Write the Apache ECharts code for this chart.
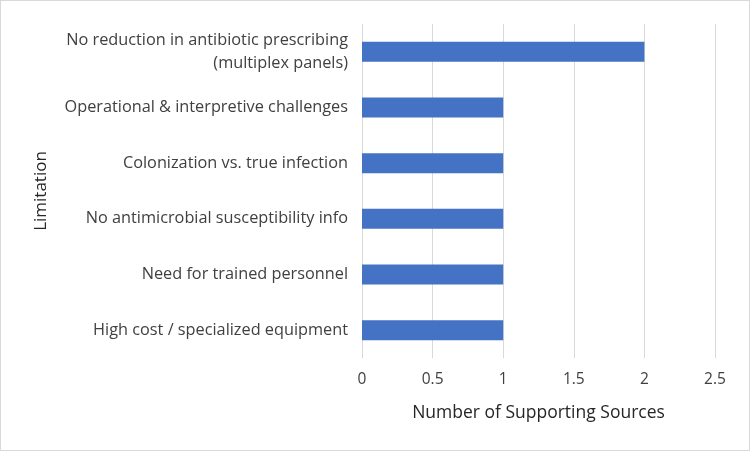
<!DOCTYPE html>
<html>
<head>
<meta charset="utf-8">
<script src="https://cdn.jsdelivr.net/npm/echarts@6/dist/echarts.min.js"></script>
<style>
  html, body { margin: 0; padding: 0; background: #fff; }
  #chart { width: 748px; height: 449px; border: 1px solid #d9d9d9; }
</style>
</head>
<body>
<div id="chart"></div>
<script>
  // categories from top to bottom
  const limitations = [
    'No reduction in antibiotic prescribing\n(multiplex panels)',
    'Operational & interpretive challenges',
    'Colonization vs. true infection',
    'No antimicrobial susceptibility info',
    'Need for trained personnel',
    'High cost / specialized equipment'
  ];
  const sourceCounts = [2, 1, 1, 1, 1, 1];
  const xTicks = { min: 0, max: 2.5, step: 0.5 };

  const fontFamily = '"Open Sans", "Liberation Sans", sans-serif';
  const chart = echarts.init(document.getElementById('chart'));
  chart.setOption({
    backgroundColor: '#fff',
    animation: false,
    grid: { left: 361, right: 34, top: 23, bottom: 92 },
    xAxis: {
      type: 'value',
      min: xTicks.min,
      max: xTicks.max,
      interval: xTicks.step,
      name: 'Number of Supporting Sources',
      nameLocation: 'middle',
      nameGap: 46,
      nameTextStyle: { fontSize: 17.5, color: '#262626', fontFamily: fontFamily },
      axisLine: { show: false },
      axisTick: { show: false },
      axisLabel: { fontSize: 15.5, color: '#404040', margin: 14, fontFamily: fontFamily },
      splitLine: { show: true, lineStyle: { color: '#d9d9d9', width: 1 } }
    },
    yAxis: {
      type: 'category',
      inverse: true,
      data: limitations,
      name: 'Limitation',
      nameLocation: 'middle',
      nameRotate: 90,
      nameGap: 312,
      nameTextStyle: { fontSize: 17, color: '#262626', fontFamily: fontFamily },
      axisLine: { show: false },
      axisTick: { show: false },
      axisLabel: { fontSize: 16.3, color: '#404040', margin: 14, lineHeight: 23, fontFamily: fontFamily },
      splitLine: { show: false }
    },
    series: [{
      type: 'bar',
      data: sourceCounts,
      barWidth: 20,
      itemStyle: { color: '#4472c4' }
    }]
  });
</script>
</body>
</html>
